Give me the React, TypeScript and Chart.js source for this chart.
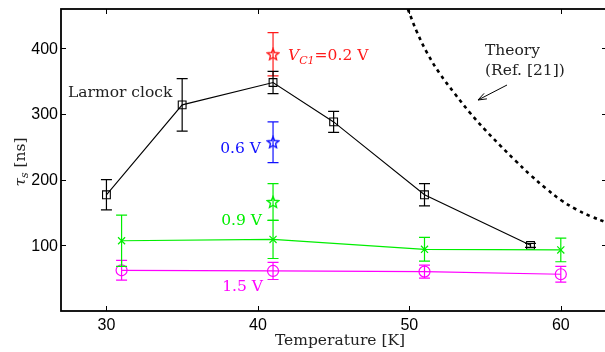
import React, { useEffect, useRef } from 'react';
import { Chart, registerables } from 'chart.js';

Chart.register(...registerables);

// ---------- data ----------
const xTicks = [30, 40, 50, 60];
const yTicks = [100, 200, 300, 400];

const larmorT = [30, 35, 41, 45, 51, 58];
const larmorTau = [177, 314, 348, 288, 177, 100];
const larmorErr = [23, 40, 17, 16, 17, 3];

const v02T = [41];
const v02Tau = [391];
const v02Err = [33];

const v06T = [41];
const v06Tau = [257];
const v06Err = [31];

const v09StarT = [41];
const v09StarTau = [166];
const v09StarErr = [28];

const v09T = [31, 41, 51, 60];
const v09Tau = [107, 109, 94, 93];
const v09Err = [39, 29, 18, 18];

const v15T = [31, 41, 51, 60];
const v15Tau = [62, 61, 60, 56];
const v15Err = [15, 13, 10, 12];

const theoryT = [49.9, 50.5, 51.2, 52.0, 53.0, 54.0, 55.0, 56.0, 57.0, 58.0, 59.0, 60.0, 61.0, 62.0, 63.0];
const theoryTau = [460, 425, 392, 362, 331, 302, 276, 252, 229, 207, 187, 169, 155, 144, 135];

// ---------- helpers ----------
const SERIF = '"DejaVu Serif", serif';
const SANS = '"Liberation Sans", Arial, sans-serif';

const BLACK = '#000000';
const RED = '#ff1a1a';
const BLUE = '#1010ff';
const GREEN = '#00ee00';
const MAGENTA = '#ff00ff';

function pts(xs: number[], ys: number[]) {
  return xs.map((x, i) => ({ x, y: ys[i] }));
}

function makeStar(color: string, size: number) {
  const c = document.createElement('canvas');
  c.width = size;
  c.height = size;
  const ctx = c.getContext('2d')!;
  const cx = size / 2;
  const cy = size / 2 + 0.5;
  const R = size / 2 - 1;
  const r = R * 0.45;
  ctx.beginPath();
  for (let i = 0; i < 10; i++) {
    const a = -Math.PI / 2 + (i * Math.PI) / 5;
    const rr = i % 2 === 0 ? R : r;
    const px = cx + rr * Math.cos(a);
    const py = cy + rr * Math.sin(a);
    if (i === 0) ctx.moveTo(px, py);
    else ctx.lineTo(px, py);
  }
  ctx.closePath();
  ctx.strokeStyle = color;
  ctx.lineWidth = 1.4;
  ctx.stroke();
  return c;
}

type Part = { text: string; font: string; dy?: number };

function drawParts(ctx: CanvasRenderingContext2D, parts: Part[], x: number, y: number, align: 'left' | 'right' | 'center') {
  let total = 0;
  for (const p of parts) {
    ctx.font = p.font;
    total += ctx.measureText(p.text).width;
  }
  let cx = align === 'left' ? x : align === 'right' ? x - total : x - total / 2;
  ctx.textAlign = 'left';
  ctx.textBaseline = 'alphabetic';
  for (const p of parts) {
    ctx.font = p.font;
    ctx.fillText(p.text, cx, y + (p.dy || 0));
    cx += ctx.measureText(p.text).width;
  }
}

const errorBarPlugin = {
  id: 'errorBars',
  afterDatasetsDraw(chart: any) {
    const ctx = chart.ctx as CanvasRenderingContext2D;
    const yScale = chart.scales.y;
    chart.data.datasets.forEach((ds: any, i: number) => {
      if (!ds.errors) return;
      const meta = chart.getDatasetMeta(i);
      ctx.save();
      ctx.strokeStyle = ds.borderColor;
      ctx.lineWidth = 1.2;
      meta.data.forEach((el: any, j: number) => {
        const v = ds.data[j].y;
        const e = ds.errors[j];
        const x = el.x;
        const yt = yScale.getPixelForValue(v + e);
        const yb = yScale.getPixelForValue(v - e);
        const cap = 5.5;
        ctx.beginPath();
        ctx.moveTo(x, yt);
        ctx.lineTo(x, yb);
        ctx.moveTo(x - cap, yt);
        ctx.lineTo(x + cap, yt);
        ctx.moveTo(x - cap, yb);
        ctx.lineTo(x + cap, yb);
        ctx.stroke();
      });
      ctx.restore();
    });
  },
};

const framePlugin = {
  id: 'frameAndText',
  afterDraw(chart: any) {
    const ctx = chart.ctx as CanvasRenderingContext2D;
    const { left, right, top, bottom } = chart.chartArea;
    const xs = chart.scales.x;
    const ys = chart.scales.y;
    ctx.save();
    // ticks (inward, all four sides)
    ctx.strokeStyle = '#000';
    ctx.lineWidth = 1;
    const tl = 5;
    ctx.beginPath();
    xTicks.forEach((v) => {
      const px = Math.round(xs.getPixelForValue(v)) + 0.5;
      ctx.moveTo(px, bottom);
      ctx.lineTo(px, bottom - tl);
      ctx.moveTo(px, top);
      ctx.lineTo(px, top + tl);
    });
    yTicks.forEach((v) => {
      const py = Math.round(ys.getPixelForValue(v)) + 0.5;
      ctx.moveTo(left, py);
      ctx.lineTo(left + tl, py);
      ctx.moveTo(right, py);
      ctx.lineTo(right - tl, py);
    });
    ctx.stroke();
    // frame
    ctx.lineWidth = 1.8;
    ctx.strokeRect(left, top, right - left, bottom - top);

    // tick labels
    ctx.fillStyle = '#000';
    ctx.font = `16px ${SANS}`;
    ctx.textAlign = 'center';
    ctx.textBaseline = 'alphabetic';
    xTicks.forEach((v) => {
      ctx.fillText(String(v), xs.getPixelForValue(v), bottom + 19);
    });
    ctx.textAlign = 'right';
    ctx.textBaseline = 'middle';
    yTicks.forEach((v) => {
      ctx.fillText(String(v), left - 3, ys.getPixelForValue(v) + 1);
    });

    // axis titles
    ctx.fillStyle = '#222';
    drawParts(ctx, [{ text: 'Temperature [K]', font: `15.5px ${SERIF}` }], 340, 345, 'center');
    ctx.save();
    ctx.translate(25, 162);
    ctx.rotate(-Math.PI / 2);
    drawParts(
      ctx,
      [
        { text: 'τ', font: `italic 15.5px ${SERIF}` },
        { text: 's', font: `italic 11px ${SERIF}`, dy: 3 },
        { text: ' [ns]', font: `15.5px ${SERIF}` },
      ],
      0,
      0,
      'center'
    );
    ctx.restore();

    // annotations
    ctx.fillStyle = '#222';
    drawParts(ctx, [{ text: 'Larmor clock', font: `15.5px ${SERIF}` }], 68, 97, 'left');
    drawParts(ctx, [{ text: 'Theory', font: `15.5px ${SERIF}` }], 485, 55, 'left');
    drawParts(ctx, [{ text: '(Ref. [21])', font: `15.5px ${SERIF}` }], 485, 75, 'left');

    ctx.fillStyle = RED;
    drawParts(
      ctx,
      [
        { text: 'V', font: `italic 15.5px ${SERIF}` },
        { text: 'C1', font: `italic 11px ${SERIF}`, dy: 4 },
        { text: '=0.2 V', font: `15.5px ${SERIF}` },
      ],
      288,
      60,
      'left'
    );
    ctx.fillStyle = BLUE;
    drawParts(ctx, [{ text: '0.6 V', font: `15.5px ${SERIF}` }], 261, 153, 'right');
    ctx.fillStyle = GREEN;
    drawParts(ctx, [{ text: '0.9 V', font: `15.5px ${SERIF}` }], 262, 225, 'right');
    ctx.fillStyle = MAGENTA;
    drawParts(ctx, [{ text: '1.5 V', font: `15.5px ${SERIF}` }], 263, 291, 'right');

    // arrow
    ctx.strokeStyle = '#000';
    ctx.lineWidth = 1;
    const x1 = 507, y1 = 85, x2 = 478, y2 = 100;
    ctx.beginPath();
    ctx.moveTo(x1, y1);
    ctx.lineTo(x2, y2);
    ctx.stroke();
    const ang = Math.atan2(y2 - y1, x2 - x1);
    const ah = 9;
    ctx.beginPath();
    ctx.moveTo(x2 - ah * Math.cos(ang - 0.35), y2 - ah * Math.sin(ang - 0.35));
    ctx.lineTo(x2, y2);
    ctx.lineTo(x2 - ah * Math.cos(ang + 0.35), y2 - ah * Math.sin(ang + 0.35));
    ctx.stroke();
    ctx.restore();
  },
};

function zeroPad(s: any) {
  s.paddingLeft = 0;
  s.paddingRight = 0;
  s.paddingTop = 0;
  s.paddingBottom = 0;
}

export default function App() {
  const ref = useRef<HTMLCanvasElement | null>(null);

  useEffect(() => {
    if (!ref.current) return;
    const starRed = makeStar(RED, 14);
    const starBlue = makeStar(BLUE, 14);
    const starGreen = makeStar(GREEN, 14);

    const chart = new Chart(ref.current, {
      type: 'scatter',
      data: {
        datasets: [
          {
            label: 'Theory',
            data: pts(theoryT, theoryTau),
            showLine: true,
            borderColor: '#000',
            borderWidth: 2.6,
            borderDash: [3.5, 4],
            pointRadius: 0,
            tension: 0.4,
          } as any,
          {
            label: '1.5 V',
            data: pts(v15T, v15Tau),
            errors: v15Err,
            showLine: true,
            borderColor: MAGENTA,
            borderWidth: 1.2,
            pointStyle: 'circle',
            pointRadius: 5.5,
            pointBorderWidth: 1.2,
            pointBackgroundColor: 'rgba(0,0,0,0)',
            pointBorderColor: MAGENTA,
          } as any,
          {
            label: '0.9 V',
            data: pts(v09T, v09Tau),
            errors: v09Err,
            showLine: true,
            borderColor: GREEN,
            borderWidth: 1.2,
            pointStyle: 'crossRot',
            pointRadius: 5,
            pointBorderWidth: 1.2,
            pointBorderColor: GREEN,
          } as any,
          {
            label: '0.9 V star',
            data: pts(v09StarT, v09StarTau),
            errors: v09StarErr,
            showLine: false,
            borderColor: GREEN,
            pointStyle: starGreen,
            pointRadius: 7,
          } as any,
          {
            label: '0.6 V',
            data: pts(v06T, v06Tau),
            errors: v06Err,
            showLine: false,
            borderColor: BLUE,
            pointStyle: starBlue,
            pointRadius: 7,
          } as any,
          {
            label: '0.2 V',
            data: pts(v02T, v02Tau),
            errors: v02Err,
            showLine: false,
            borderColor: RED,
            pointStyle: starRed,
            pointRadius: 7,
          } as any,
          {
            label: 'Larmor clock',
            data: pts(larmorT, larmorTau),
            errors: larmorErr,
            showLine: true,
            borderColor: BLACK,
            borderWidth: 1.1,
            pointStyle: 'rect',
            pointRadius: 5.5,
            pointBorderWidth: 1.1,
            pointBackgroundColor: 'rgba(0,0,0,0)',
            pointBorderColor: BLACK,
          } as any,
        ],
      },
      options: {
        responsive: false,
        animation: false,
        devicePixelRatio: 1,
        layout: { autoPadding: false, padding: { top: 9, right: 0, left: 0, bottom: 0 } },
        plugins: {
          legend: { display: false },
          tooltip: { enabled: false },
        },
        scales: {
          x: {
            type: 'linear',
            min: 27,
            max: 63.05,
            afterBuildTicks: (s: any) => {
              s.ticks = xTicks.map((v) => ({ value: v }));
            },
            afterFit: (s: any) => {
              s.height = 41;
              zeroPad(s);
            },
            grid: { display: false, drawTicks: false },
            border: { display: false },
            ticks: { display: false },
          },
          y: {
            type: 'linear',
            min: 0,
            max: 460,
            afterBuildTicks: (s: any) => {
              s.ticks = yTicks.map((v) => ({ value: v }));
            },
            afterFit: (s: any) => {
              s.width = 61;
              zeroPad(s);
            },
            grid: { display: false, drawTicks: false },
            border: { display: false },
            ticks: { display: false },
          },
        },
      } as any,
      plugins: [errorBarPlugin, framePlugin],
    });
    return () => chart.destroy();
  }, []);

  return (
    <div style={{ position: 'absolute', left: 0, top: 0, width: 605, height: 352, background: '#fff', overflow: 'hidden' }}>
      <canvas ref={ref} width={607} height={352} style={{ display: 'block' }} />
    </div>
  );
}
